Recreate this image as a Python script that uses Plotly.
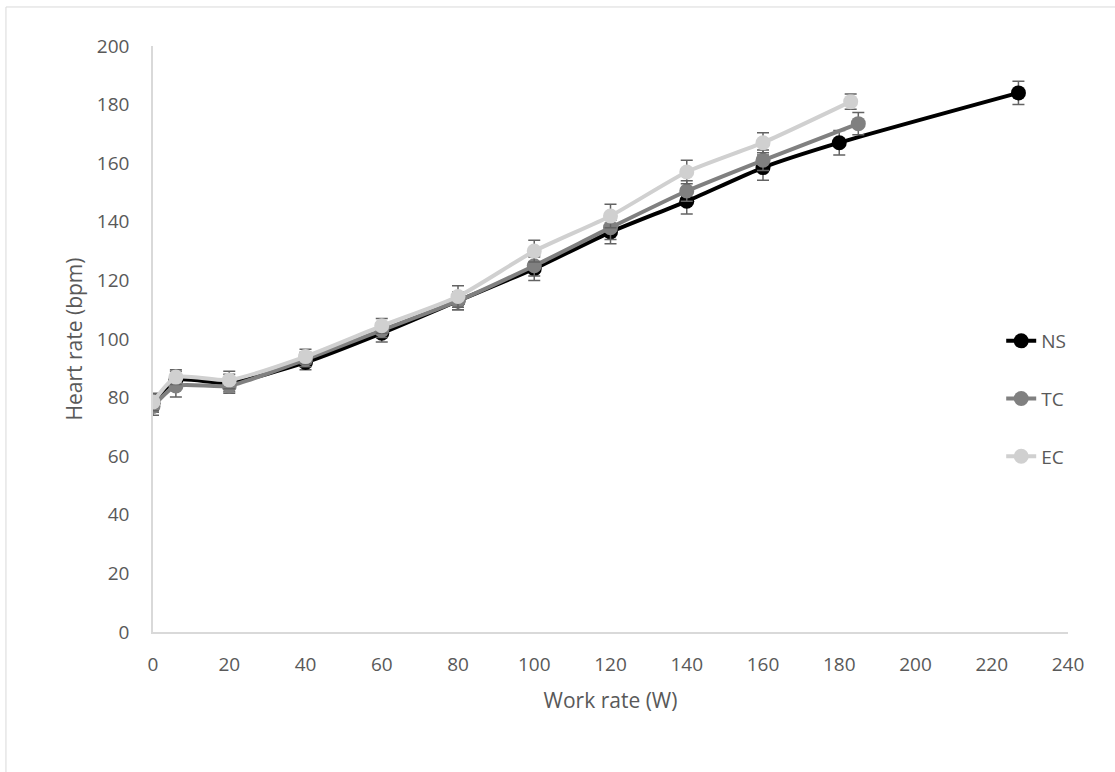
import plotly.graph_objects as go

# Work rate (W) and heart rate (bpm, mean ± error) for each condition
work_ns = [0, 6, 20, 40, 60, 80, 100, 120, 140, 160, 180, 227]
hr_ns = [78, 86, 85, 92, 102, 113, 124, 136.5, 147, 158.5, 167, 184]
err_ns = [3, 3, 3, 2.5, 3, 3, 4, 4, 4.3, 4.3, 4.2, 4]

work_tc = [0, 6, 20, 40, 60, 80, 100, 120, 140, 160, 185]
hr_tc = [77, 84, 84, 93, 103, 113, 125, 138, 150.5, 161, 173.5]
err_tc = [3, 3.8, 2.5, 2.5, 2.5, 3, 3.5, 4, 3.5, 3.5, 3.8]

work_ec = [0, 6, 20, 40, 60, 80, 100, 120, 140, 160, 183]
hr_ec = [78.5, 87, 86, 94, 104.5, 114.5, 130, 142, 157, 167, 181]
err_ec = [3, 2.5, 3, 2.5, 2.5, 3.7, 3.7, 4, 4, 3.4, 2.6]

x_ticks = list(range(0, 241, 20))
y_ticks = list(range(0, 201, 20))

series = [
    ("NS", work_ns, hr_ns, err_ns, "#000000"),
    ("TC", work_tc, hr_tc, err_tc, "#808080"),
    ("EC", work_ec, hr_ec, err_ec, "#d0d0d0"),
]

FONT = "Open Sans"
TEXT = "#595959"
AXIS = "#d9d9d9"

fig = go.Figure()
for name, xs, ys, es, color in series:
    fig.add_trace(go.Scatter(
        x=xs, y=ys, name=name, mode="lines+markers",
        line=dict(color=color, width=4, shape="spline", smoothing=0.6),
        marker=dict(color=color, size=15, line=dict(width=0)),
        error_y=dict(type="data", array=es, visible=True,
                     color="#636363", thickness=1.5, width=6),
        legendgroup=name,
    ))

# outer chart frame (left and top edges)
fig.add_shape(type="line", xref="paper", yref="paper",
              x0=-0.1607, x1=-0.1607, y0=-0.3, y1=1.0666,
              line=dict(color=AXIS, width=1))
fig.add_shape(type="line", xref="paper", yref="paper",
              x0=-0.1607, x1=1.1, y0=1.0666, y1=1.0666,
              line=dict(color=AXIS, width=1))

fig.update_layout(
    width=1115, height=772,
    margin=dict(l=153, r=47, t=46, b=140),
    paper_bgcolor="white", plot_bgcolor="white",
    font=dict(family=FONT, color=TEXT, size=19),
    showlegend=True,
    legend=dict(x=0.927, y=0.3976, xanchor="left", yanchor="middle",
                font=dict(size=19, color=TEXT), tracegroupgap=30,
                bgcolor="rgba(0,0,0,0)"),
    xaxis=dict(range=[0, 240], tickvals=x_ticks, showgrid=False, zeroline=False,
               showline=True, linecolor=AXIS, linewidth=1.5,
               ticks="outside", ticklen=14, tickcolor="rgba(0,0,0,0)",
               title=dict(text="Work rate (W)", font=dict(size=21), standoff=18)),
    yaxis=dict(range=[0, 200], tickvals=y_ticks, showgrid=False, zeroline=False,
               showline=True, linecolor=AXIS, linewidth=1.5,
               ticks="outside", ticklen=18, tickcolor="rgba(0,0,0,0)",
               title=dict(text="Heart rate (bpm)", font=dict(size=21), standoff=9)),
)

fig.write_html("out.html")
